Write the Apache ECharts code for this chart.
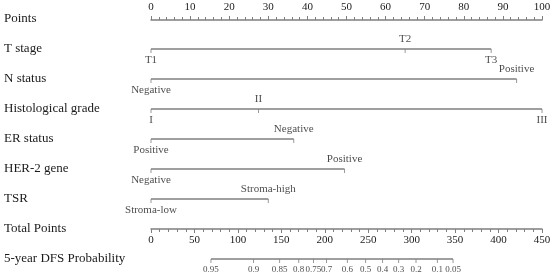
<!DOCTYPE html>
<html>
<head>
<meta charset="utf-8">
<script src="https://cdn.jsdelivr.net/npm/echarts@6/dist/echarts.min.js"></script>
<style>
  html, body { margin: 0; padding: 0; background: #fff; }
  #chart { width: 555px; height: 279px; }
</style>
</head>
<body>
<div id="chart"></div>
<script>
// row names (top to bottom)
const rowNames = ['Points', 'T stage', 'N status', 'Histological grade', 'ER status',
  'HER-2 gene', 'TSR', 'Total Points', '5-year DFS Probability']

// variable levels and their points
const tLevels = ['T1', 'T2', 'T3']
const tPoints = [0, 65, 87]
const nLevels = ['Negative', 'Positive']
const nPoints = [0, 93.5]
const gradeLevels = ['I', 'II', 'III']
const gradePoints = [0, 27.5, 100]
const erLevels = ['Positive', 'Negative']
const erPoints = [0, 36.5]
const herLevels = ['Negative', 'Positive']
const herPoints = [0, 49.5]
const tsrLevels = ['Stroma-low', 'Stroma-high']
const tsrPoints = [0, 30]

// 5-year DFS probability ticks and matching total points
const probLabels = ['0.95', '0.9', '0.85', '0.8', '0.75', '0.7', '0.6', '0.5', '0.4', '0.3', '0.2', '0.1', '0.05']
const probTotals = [69, 118, 148, 170, 187, 202, 226, 247, 266.5, 285, 305, 329.6, 347.6]

const FONT = '"Liberation Serif", "Times New Roman", serif'
const LINE = '#7f7f7f'
const TEXT = '#1a1a1a'

const variables = [
  { row: 'T stage', levels: tLevels, pts: tPoints },
  { row: 'N status', levels: nLevels, pts: nPoints },
  { row: 'Histological grade', levels: gradeLevels, pts: gradePoints },
  { row: 'ER status', levels: erLevels, pts: erPoints },
  { row: 'HER-2 gene', levels: herLevels, pts: herPoints },
  { row: 'TSR', levels: tsrLevels, pts: tsrPoints }
]

const series = []

// horizontal lines + level ticks for each variable
variables.forEach(v => {
  series.push({
    type: 'line',
    xAxisIndex: 0, yAxisIndex: 0,
    data: [[0, v.row], [Math.max(...v.pts), v.row]],
    symbol: 'none',
    lineStyle: { color: LINE, width: 1.5 },
    silent: true
  })
  series.push({
    type: 'scatter',
    xAxisIndex: 0, yAxisIndex: 0,
    symbol: 'rect',
    symbolSize: [1, 4],
    symbolOffset: [0, 2],
    itemStyle: { color: LINE },
    data: v.levels.map((name, i) => ({
      value: [v.pts[i], v.row],
      label: {
        show: true,
        formatter: name,
        position: i % 2 === 0 ? 'bottom' : 'top',
        distance: i % 2 === 0 ? 2 : 4
      }
    })),
    label: { color: TEXT, fontFamily: FONT, fontSize: 11 },
    silent: true
  })
})

// probability axis (drawn on a hidden total-points scale)
series.push({
  type: 'line',
  xAxisIndex: 3, yAxisIndex: 0,
  data: [[probTotals[0], rowNames[8]], [probTotals[probTotals.length - 1], rowNames[8]]],
  symbol: 'none',
  lineStyle: { color: LINE, width: 1.5 },
  silent: true
})
series.push({
  type: 'scatter',
  xAxisIndex: 3, yAxisIndex: 0,
  symbol: 'rect',
  symbolSize: [1, 4],
  symbolOffset: [0, 2],
  itemStyle: { color: LINE },
  data: probTotals.map((t, i) => ({ value: [t, rowNames[8]], name: probLabels[i] })),
  label: {
    show: true,
    position: 'bottom',
    distance: 2,
    formatter: p => p.name,
    color: TEXT, fontFamily: FONT, fontSize: 9
  },
  silent: true
})

const chart = echarts.init(document.getElementById('chart'), null, { renderer: 'canvas' })
chart.setOption({
  animation: false,
  backgroundColor: '#fff',
  grid: [
    { left: 151, right: 13, top: 4, bottom: 5 },
    { left: 151, right: 13, top: 19, height: 1 },
    { left: 151, right: 13, top: 228, height: 1 }
  ],
  xAxis: [
    { gridIndex: 0, type: 'value', min: 0, max: 100, show: false },
    {
      gridIndex: 1, type: 'value', position: 'top', min: 0, max: 100, interval: 10,
      axisLine: { show: true, lineStyle: { color: LINE, width: 1.5 } },
      axisTick: { show: true, length: 4, lineStyle: { color: LINE } },
      minorTick: { show: true, splitNumber: 5, length: 3, lineStyle: { color: LINE } },
      splitLine: { show: false },
      axisLabel: { color: TEXT, fontFamily: FONT, fontSize: 11, margin: 6 }
    },
    {
      gridIndex: 2, type: 'value', position: 'bottom', min: 0, max: 450, interval: 50,
      axisLine: { show: true, lineStyle: { color: LINE, width: 1.5 } },
      axisTick: { show: true, length: 4, lineStyle: { color: LINE } },
      minorTick: { show: true, splitNumber: 5, length: 3, lineStyle: { color: LINE } },
      splitLine: { show: false },
      axisLabel: { color: TEXT, fontFamily: FONT, fontSize: 11, margin: 6 }
    },
    { gridIndex: 0, type: 'value', min: 0, max: 450, show: false }
  ],
  yAxis: [
    {
      gridIndex: 0, type: 'category', data: rowNames, inverse: true,
      axisLine: { show: false }, axisTick: { show: false },
      axisLabel: {
        color: TEXT, fontFamily: FONT, fontSize: 13, align: 'left', margin: 147,
        padding: [7, 0, 0, 0]
      }
    },
    { gridIndex: 1, type: 'value', show: false },
    { gridIndex: 2, type: 'value', show: false }
  ],
  series: series
})
</script>
</body>
</html>
